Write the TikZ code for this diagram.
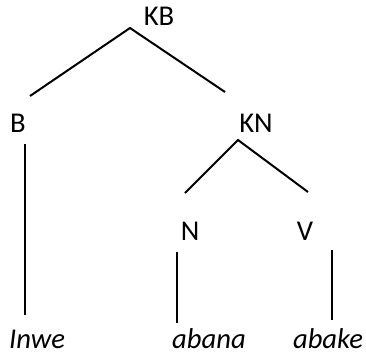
\documentclass[tikz,border=0pt]{standalone}
\usepackage{fontspec}
\setmainfont{Carlito}
\begin{document}
\begin{tikzpicture}[x=0.75pt,y=-0.75pt,line width=1.5pt,
  every node/.style={font=\fontsize{21.5}{26}\selectfont,inner sep=0pt,anchor=base}]
\useasboundingbox (0,0) rectangle (366,354);

\node (KB) at (159,25){KB};
\node (B) at (18,132){B};
\node (KN) at (256,132){KN};
\node (N) at (190,240){N};
\node (V) at (305,240){V};
\node (inwe) at (37,348){\itshape Inwe};
\node (abana) at (209,348){\itshape abana};
\node (abake) at (328,348){\itshape abake};

\coordinate (kb) at (130,28);
\coordinate (b1) at (30,96);
\coordinate (kn1) at (225,92);
\coordinate (kn) at (238,140);
\coordinate (n1) at (185,193);
\coordinate (v1) at (308,192);
\coordinate (b2) at (25,144);
\coordinate (b3) at (25,315);
\coordinate (n2) at (177,252);
\coordinate (n3) at (177,323);
\coordinate (v2) at (332,250);
\coordinate (v3) at (332,320);

\draw (b1)--(kb)--(kn1);
\draw (n1)--(kn)--(v1);
\draw (b2)--(b3);
\draw (n2)--(n3);
\draw (v2)--(v3);

\end{tikzpicture}
\end{document}
